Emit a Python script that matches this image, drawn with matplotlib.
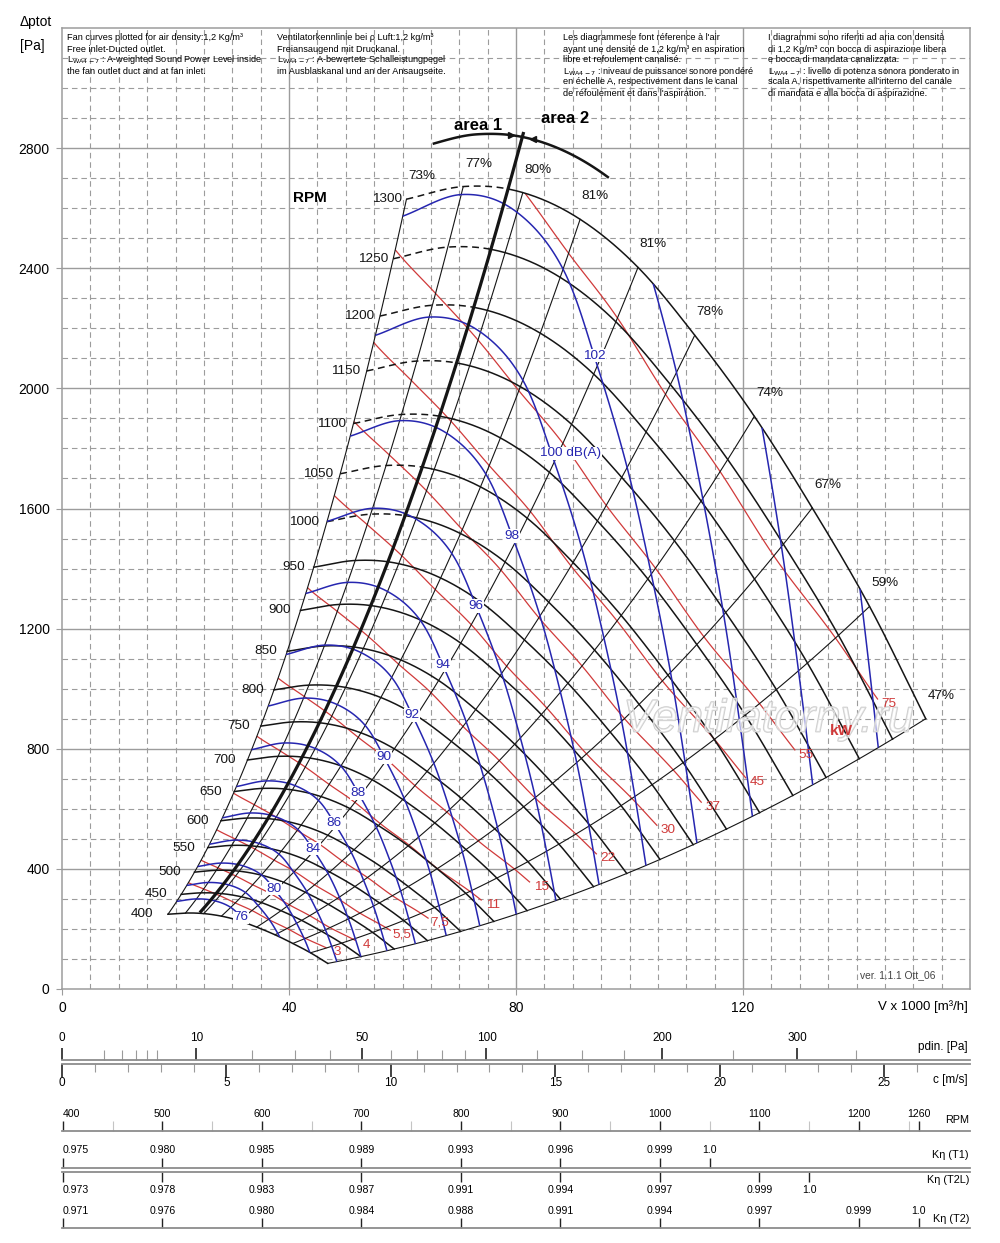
import numpy as np
import matplotlib
matplotlib.use("Agg")
import matplotlib.pyplot as plt
import matplotlib.patheffects as pe
from matplotlib import font_manager
from matplotlib.ticker import NullFormatter

plt.rcParams["font.family"] = ["Liberation Sans", "DejaVu Sans"]
installed = {f.name for f in font_manager.fontManager.ttflist}
if "Liberation Sans Narrow" in installed:
    NARROW = ["Liberation Sans Narrow", "DejaVu Sans"]
else:
    NARROW = ["Liberation Sans", "DejaVu Sans"]

# ---------------- values ----------------
rpm_base = 1300
rpm_list = list(range(400, 1301, 50))
rpm_dashed_from = 1000

# 1300 rpm curve where the rays / area border cross it (V x1000 m3/h, Pa)
curve_V = [60.7, 70.7, 78.6, 81.2, 91.3, 101.5, 111.5, 122.0, 132.2, 142.3, 152.2]
curve_p = [2630, 2672, 2664, 2652, 2563, 2403, 2177, 1907, 1602, 1274, 900]

# efficiency rays (flow on the 1300 rpm curve) and their labels
eff_V = [60.7, 70.7, 81.2, 91.3, 101.5, 111.5, 122.0, 132.2, 142.3, 152.2]
eff_pct = [73, 77, 80, 81, 81, 78, 74, 67, 59, 47]

# sound power on the 1300 rpm curve at the same rays, dB(A)
snd_dB = [102.26, 102.12, 102.3, 102.8, 103.75, 104.7, 105.85, 107.0, 108.2, 109.35]
snd_slope = 55  # dB per decade of speed

area_V = 78.6             # area 1 / area 2 border
area_f = (0.309, 1.035)
arc_f = 1.032
arc_V = (63.5, 93.2)

kw_levels = [3, 4, 5.5, 7.5, 11, 15, 22, 30, 37, 45, 55, 75]
kw_text = ["3", "4", "5,5", "7,5", "11", "15", "22", "30", "37", "45", "55", "75"]
db_levels = list(range(76, 109, 2))
db_labelled = [76, 80, 84, 86, 88, 90, 92, 94, 96, 98, 100, 102]
db_label_V = 100.5

# bottom scales
pd_major = [0, 10, 50, 100, 200, 300]
pd_minor = [1, 2, 3, 4, 5, 20, 30, 40, 60, 70, 80, 90, 125, 150, 175, 250, 350]
c_major = [0, 5, 10, 15, 20, 25]
c_minor = list(range(0, 27))
V_per_c = 5.794   # 1000 m3/h per m/s
rho = 1.2

rpm_axis = (399.0, 1311.6)
scale_rpm = [400, 500, 600, 700, 800, 900, 1000, 1100, 1200, 1260]
scale_rpm_minor = [450, 550, 650, 750, 850, 950, 1050, 1150, 1250]
k_t1_rpm = [400, 500, 600, 700, 800, 900, 1000, 1050]
k_t1 = ["0.975", "0.980", "0.985", "0.989", "0.993", "0.996", "0.999", "1.0"]
k_t2l_rpm = [400, 500, 600, 700, 800, 900, 1000, 1100, 1150]
k_t2l = ["0.973", "0.978", "0.983", "0.987", "0.991", "0.994", "0.997", "0.999", "1.0"]
k_t2_rpm = [400, 500, 600, 700, 800, 900, 1000, 1100, 1200, 1260]
k_t2 = ["0.971", "0.976", "0.980", "0.984", "0.988", "0.991", "0.994", "0.997", "0.999", "1.0"]

header = [
    (67, ["Fan curves plotted for air density:1,2 Kg/m³",
          "Free inlet-Ducted outlet.",
          r"L$_{\rm WA4-7}$ : A-weighted Sound Power Level inside",
          "the fan outlet duct and at fan inlet."]),
    (277, ["Ventilatorkennlinie bei ρ Luft:1,2 kg/m³",
           "Freiansaugend mit Druckanal.",
           r"L$_{\rm WA4-7}$ : A-bewertete Schalleistungpegel",
           "im Ausblaskanal und an der Ansaugseite."]),
    (563, ["Les diagrammese font réference à l'air",
           "ayant une densité de 1,2 kg/m³ en aspiration",
           "libre et refoulement canalisé.",
           r"L$_{\rm WA4-7}$ : niveau de puissance sonore pondéré",
           "en échelle A, respectivement dans le canal",
           "de réfoulement et dans l'aspiration."]),
    (768, ["I diagrammi sono riferiti ad aria con densità",
           "di 1,2 Kg/m³ con bocca di aspirazione libera",
           "e bocca di mandata canalizzata.",
           r"L$_{\rm WA4-7}$ : livello di potenza sonora ponderato in",
           "scala A, rispettivamente all'interno del canale",
           "di mandata e alla bocca di aspirazione."]),
]

INK = "#151515"
BLUE = "#2626b0"
RED = "#d03a3a"
GRID = "#9c9c9c"
W, H = 1000, 1243


def smooth(xk, yk, x):
    xk = np.asarray(xk, float)
    yk = np.asarray(yk, float)
    x = np.asarray(x, float)
    m = np.gradient(yk, xk)
    i = np.clip(np.searchsorted(xk, x) - 1, 0, len(xk) - 2)
    h = xk[i + 1] - xk[i]
    t = (x - xk[i]) / h
    return ((2 * t**3 - 3 * t**2 + 1) * yk[i] + (t**3 - 2 * t**2 + t) * h * m[i]
            + (-2 * t**3 + 3 * t**2) * yk[i + 1] + (t**3 - t**2) * h * m[i + 1])


fig = plt.figure(figsize=(W / 100, H / 100), dpi=100)


def px_axes(x0, y0, x1, y1):
    return fig.add_axes([x0 / W, 1 - y1 / H, (x1 - x0) / W, (y1 - y0) / H])


# ---------------- main chart ----------------
ax = px_axes(62, 28, 970, 989)
ax.set_xlim(0, 160)
ax.set_ylim(0, 3200)
for v in range(5, 160, 5):
    if v % 40:
        ax.axvline(v, color=GRID, lw=0.8, ls=(0, (5, 3.5)), zorder=0)
    else:
        ax.axvline(v, color=GRID, lw=1.0, zorder=0)
for p in range(100, 3200, 100):
    if p % 400:
        ax.axhline(p, color=GRID, lw=0.8, ls=(0, (5, 3.5)), zorder=0)
    else:
        ax.axhline(p, color=GRID, lw=1.0, zorder=0)
for s in ax.spines.values():
    s.set_color(GRID)
    s.set_linewidth(1.1)
ax.set_xticks([0, 40, 80, 120])
ax.set_yticks(range(0, 3200, 400))
ax.tick_params(length=4, color=GRID, labelsize=10, pad=5)

Vb = np.linspace(curve_V[0], curve_V[-1], 400)
pb = smooth(curve_V, curve_p, Vb)
f_min = rpm_list[0] / rpm_base

# speed curves
k_area = np.searchsorted(Vb, area_V)
for n in rpm_list:
    f = n / rpm_base
    if n >= rpm_dashed_from:
        ax.plot(Vb[:k_area + 1] * f, pb[:k_area + 1] * f**2, color=INK, lw=1.1,
                ls=(0, (4.5, 3)), zorder=4)
        ax.plot(Vb[k_area:] * f, pb[k_area:] * f**2, color=INK, lw=1.1, zorder=4)
    else:
        ax.plot(Vb * f, pb * f**2, color=INK, lw=1.1, zorder=4)
    dx = -3.5 - 7 * (1 - f) / (1 - f_min)
    ax.annotate(str(n), (Vb[0] * f, pb[0] * f**2), xytext=(dx, 0), textcoords="offset points",
                ha="right", va="center", fontsize=9.7, color=INK)

# efficiency rays
fr = np.linspace(f_min, 1, 120)
for v, e in zip(eff_V, eff_pct):
    pv = float(smooth(curve_V, curve_p, v))
    ax.plot(v * fr, pv * fr**2, color=INK, lw=0.8, zorder=4)
    ax.annotate(f"{e}%", (v, pv), xytext=(11, 16.5), textcoords="offset points",
                ha="center", va="center", fontsize=9.7, color=INK)

# area border and arc
fa = np.linspace(area_f[0], area_f[1], 60)
pa = float(smooth(curve_V, curve_p, area_V))
ax.plot(area_V * fa, pa * fa**2, color=INK, lw=2.3, zorder=6, solid_capstyle="butt")
va = np.linspace(arc_V[0], arc_V[1], 80)
ax.plot(va * arc_f, smooth(curve_V, curve_p, va) * arc_f**2, color=INK, lw=1.8, zorder=6)
for vv, mk in [(76.6, ">"), (80.4, "<")]:
    ax.plot(vv * arc_f, float(smooth(curve_V, curve_p, vv)) * arc_f**2, marker=mk,
            ms=5, color=INK, zorder=7)
ax.text(73.3, 2877, "area 1", fontsize=12, fontweight="bold", ha="center", va="center")
ax.text(88.6, 2900, "area 2", fontsize=12, fontweight="bold", ha="center", va="center")
ax.text(43.7, 2633, "RPM", fontsize=11, fontweight="bold", ha="center", va="center")

# power and sound fields over the working area
fg = np.linspace(f_min, 1, 300)[:, None]
VV = Vb[None, :] * fg
PP = pb[None, :] * fg**2
L = smooth(eff_V, snd_dB, Vb)[None, :] + snd_slope * np.log10(fg)
eta = smooth(eff_V, eff_pct, Vb) / 100
Pkw = (Vb / 3.6 * pb / eta / 1000)[None, :] * fg**3
Pkw = np.ma.masked_where(np.broadcast_to(Vb[None, :], VV.shape) > curve_V[-1] - 3.2 / fg, Pkw)

cs_r = ax.contour(VV, PP, Pkw, levels=kw_levels, colors=RED, linewidths=0.9, zorder=3)
cs_b = ax.contour(VV, PP, L, levels=db_levels, colors=BLUE, linewidths=1.1, zorder=5)

ax.text(124.5, 897, "Ventilatorny.ru", fontsize=33, fontstyle="italic",
        color=(1, 1, 1, 0.4), ha="center", va="center", zorder=7,
        path_effects=[pe.withStroke(linewidth=1.1, foreground="#cdcdcd")])

for path, txt in zip(cs_r.get_paths(), kw_text):
    vert = path.vertices
    if len(vert) == 0:
        continue
    end = vert[np.argmax(vert[:, 0])]
    ax.annotate(txt, end, xytext=(8, -3), textcoords="offset points", ha="center",
                va="center", fontsize=9.7, color=RED, zorder=8)

p_lab = float(smooth(curve_V, curve_p, db_label_V))
L_lab = float(smooth(eff_V, snd_dB, db_label_V))
for lev in db_labelled:
    f = 10 ** ((lev - L_lab) / snd_slope)
    xy = (db_label_V * f, p_lab * f**2)
    box = dict(boxstyle="square,pad=0.05", fc="white", ec="none")
    if lev == 100:
        ax.annotate("100 dB(A)", xy, xytext=(-8, 0), textcoords="offset points", ha="left",
                    va="center", fontsize=9.7, color=BLUE, bbox=box, zorder=8)
    else:
        ax.annotate(str(lev), xy, ha="center", va="center", fontsize=9.7, color=BLUE,
                    bbox=box, zorder=8)

ax.text(137.3, 860, "kW", fontsize=11, fontweight="bold", color=RED, ha="center",
        va="center", zorder=8)
ax.text(140.6, 47, "ver. 1.1.1 Ott_06", fontsize=7.4, color="#444444", ha="left", va="center")

# header texts and axis captions
for x0, lines in header:
    for k, line in enumerate(lines):
        fig.text(x0 / W, 1 - (38 + 11 * k) / H, line, fontsize=6.6, va="center", ha="left")
fig.text(20 / W, 1 - 22 / H, "Δptot", fontsize=10, va="center", ha="left")
fig.text(20 / W, 1 - 46 / H, "[Pa]", fontsize=10, va="center", ha="left")
fig.text(968 / W, 1 - 1007 / H, "V x 1000 [m³/h]", fontsize=9.5, va="center", ha="right")

# ---------------- bottom scales ----------------
c_max = 160 / V_per_c


def pd_to_c(pd):
    return np.sqrt(np.clip(pd, 0, None) / (rho / 2))


def c_to_pd(c):
    return rho / 2 * np.asarray(c) ** 2


def bare(a, keep):
    a.patch.set_alpha(0)
    a.set_yticks([])
    for name, s in a.spines.items():
        s.set_visible(name == keep)
        s.set_color("#8c8c8c")
        s.set_linewidth(1.3)
    a.xaxis.set_minor_formatter(NullFormatter())


axp = px_axes(62, 1047, 970, 1060)
axp.set_xscale("function", functions=(pd_to_c, c_to_pd))
axp.set_xlim(0, c_to_pd(c_max))
bare(axp, "bottom")
axp.set_xticks(pd_major, [str(v) for v in pd_major])
axp.set_xticks(pd_minor, minor=True)
axp.tick_params(axis="x", which="both", direction="in", bottom=True, top=False,
                labelbottom=False, labeltop=True, labelsize=8.5, pad=2)
axp.tick_params(axis="x", which="major", length=9, width=1.2, color="#222222")
axp.tick_params(axis="x", which="minor", length=7, width=0.8, color="#9a9a9a")

axc = px_axes(62, 1064, 970, 1076)
axc.set_xlim(0, c_max)
bare(axc, "top")
axc.set_xticks(c_major, [str(v) for v in c_major])
axc.set_xticks(c_minor, minor=True)
axc.tick_params(axis="x", which="both", direction="in", bottom=False, top=True,
                labelbottom=True, labeltop=False, labelsize=8.5, pad=1)
axc.tick_params(axis="x", which="major", length=9, width=1.2, color="#222222")
axc.tick_params(axis="x", which="minor", length=6, width=0.8, color="#9a9a9a")

fig.text(968 / W, 1 - 1047 / H, "pdin. [Pa]", fontsize=8.5, ha="right", va="center")
fig.text(968 / W, 1 - 1080 / H, "c [m/s]", fontsize=8.5, ha="right", va="center")


def kscale(y0, y1, line, ticks, labels, minor=None):
    a = px_axes(62, y0, 970, y1)
    a.set_xlim(*rpm_axis)
    bare(a, line)
    a.set_xticks(ticks, labels)
    if minor:
        a.set_xticks(minor, minor=True)
    up = line == "bottom"
    a.tick_params(axis="x", which="both", direction="in", bottom=up, top=not up,
                  labelbottom=not up, labeltop=up, pad=2)
    a.tick_params(axis="x", which="major", length=7, width=1.0, color="#222222")
    a.tick_params(axis="x", which="minor", length=7, width=0.8, color="#c4c4c4")
    for t in a.get_xticklabels():
        t.set_fontfamily(NARROW)
        t.set_fontsize(7.6)
    a.get_xticklabels()[0].set_horizontalalignment("left")
    return a


kscale(1122, 1131, "bottom", scale_rpm, [str(v) for v in scale_rpm], scale_rpm_minor)
kscale(1158, 1168, "bottom", k_t1_rpm, k_t1)
kscale(1172, 1182, "top", k_t2l_rpm, k_t2l)
kscale(1219, 1228, "bottom", k_t2_rpm, k_t2)

for y, txt in [(1120, "RPM"), (1155, "Kη (T1)"), (1180, "Kη (T2L)"), (1219, "Kη (T2)")]:
    fig.text(969 / W, 1 - y / H, txt, fontsize=7.8, ha="right", va="center",
             family=NARROW)

fig.savefig("out.png", dpi=100, facecolor="white")
